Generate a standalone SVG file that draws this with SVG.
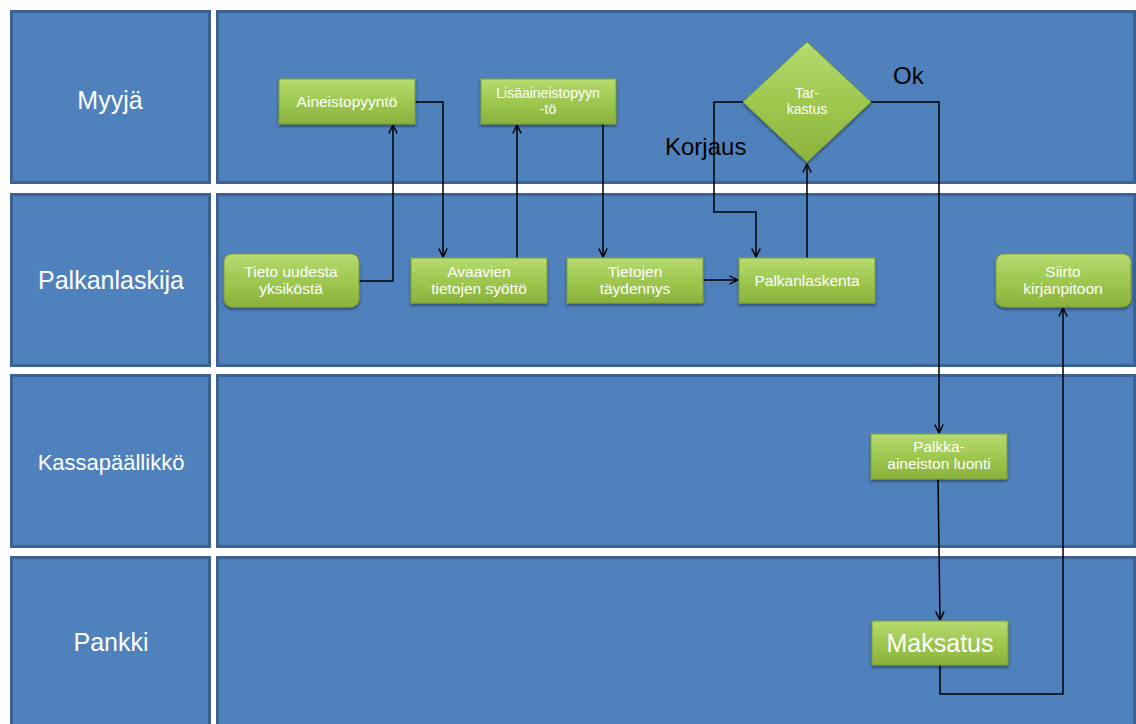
<svg xmlns="http://www.w3.org/2000/svg" width="1136" height="724" viewBox="0 0 1136 724">
<defs>
<style>
.lane{fill:#4f81bd;stroke:#3b6292;stroke-width:3}
.lbl{font-family:"Liberation Sans",Arial,sans-serif;fill:#ffffff;text-anchor:middle}
.node{fill:url(#gr);stroke:#7f9f3a;stroke-width:1;filter:url(#sh)}
.nt{font-family:"Liberation Sans",Arial,sans-serif;fill:#ffffff;text-anchor:middle;font-size:15.5px}
.sm{font-size:14px}
.xl{font-size:25px}
.con{fill:none;stroke:#000000;stroke-width:1.5}
.big{font-family:"Liberation Sans",Arial,sans-serif;fill:#000000;font-size:24px}
</style>
<linearGradient id="gr" x1="0" y1="0" x2="0" y2="1">
<stop offset="0" stop-color="#b6db70"/>
<stop offset="0.5" stop-color="#9ec84f"/>
<stop offset="1" stop-color="#8ab23c"/>
</linearGradient>
<filter id="sh" x="-10%" y="-10%" width="120%" height="140%">
<feDropShadow dx="0" dy="2" stdDeviation="1.5" flood-color="#000" flood-opacity="0.45"/>
</filter>
<marker id="ar" viewBox="0 0 10 10" refX="9.5" refY="5" markerWidth="10" markerHeight="10" markerUnits="userSpaceOnUse" orient="auto">
<path d="M1,0.8 L9.5,5 L1,9.2" fill="none" stroke="#000" stroke-width="1.5"/>
</marker>
</defs>
<rect width="1136" height="724" fill="#ffffff"/>
<g id="lanes">
<rect class="lane" x="11.5" y="11.5" width="198" height="171"/>
<rect class="lane" x="217.5" y="11.5" width="917" height="171"/>
<rect class="lane" x="11.5" y="194.5" width="198" height="171"/>
<rect class="lane" x="217.5" y="194.5" width="917" height="171"/>
<rect class="lane" x="11.5" y="375.5" width="198" height="171"/>
<rect class="lane" x="217.5" y="375.5" width="917" height="171"/>
<rect class="lane" x="11.5" y="557.5" width="198" height="180"/>
<rect class="lane" x="217.5" y="557.5" width="917" height="180"/>
<text class="lbl" x="110" y="109" font-size="25">Myyjä</text>
<text class="lbl" x="111" y="289" font-size="25">Palkanlaskija</text>
<text class="lbl" x="111" y="470" font-size="22">Kassapäällikkö</text>
<text class="lbl" x="111" y="651" font-size="25">Pankki</text>
</g>
<g id="connectors">
<path class="con" d="M359,281 H393 V125" marker-end="url(#ar)"/>
<path class="con" d="M415,102 H443 V257" marker-end="url(#ar)"/>
<path class="con" d="M517,258 V125" marker-end="url(#ar)"/>
<path class="con" d="M603,124 V257" marker-end="url(#ar)"/>
<path class="con" d="M703,280 H738" marker-end="url(#ar)"/>
<path class="con" d="M807,258 V164" marker-end="url(#ar)"/>
<path class="con" d="M744,102 H714 V212 H756 V257" marker-end="url(#ar)"/>
<path class="con" d="M871,102 H939 V433" marker-end="url(#ar)"/>
<path class="con" d="M938,479 L940,620" marker-end="url(#ar)"/>
<path class="con" d="M940,665 V694 H1063 V308" marker-end="url(#ar)"/>
<text class="big" x="665" y="155">Korjaus</text>
<text class="big" x="893" y="84">Ok</text>
</g>
<g id="n-aineistopyynto">
<rect class="node" x="279" y="79" width="136" height="45"/>
<text class="nt" x="347" y="107">Aineistopyyntö</text>
</g>
<g id="n-lisaaineisto">
<rect class="node" x="481" y="79" width="135" height="45"/>
<text class="nt sm" x="548" y="98">Lisäaineistopyyn</text>
<text class="nt sm" x="548" y="114">-tö</text>
</g>
<g id="n-tarkastus">
<path class="node" d="M807,42 L871,102 L807,162 L743,102 Z"/>
<text class="nt sm" x="807" y="98">Tar-</text>
<text class="nt sm" x="807" y="114">kastus</text>
</g>
<g id="n-tieto">
<rect class="node" x="224" y="254" width="135" height="53" rx="8"/>
<text class="nt" x="291" y="277">Tieto uudesta</text>
<text class="nt" x="291" y="294">yksiköstä</text>
</g>
<g id="n-avaavien">
<rect class="node" x="411" y="258" width="136" height="45"/>
<text class="nt" x="479" y="277">Avaavien</text>
<text class="nt" x="479" y="294">tietojen syöttö</text>
</g>
<g id="n-taydennys">
<rect class="node" x="567" y="258" width="136" height="45"/>
<text class="nt" x="635" y="277">Tietojen</text>
<text class="nt" x="635" y="294">täydennys</text>
</g>
<g id="n-palkanlaskenta">
<rect class="node" x="739" y="258" width="136" height="45"/>
<text class="nt" x="807" y="286">Palkanlaskenta</text>
</g>
<g id="n-siirto">
<rect class="node" x="996" y="254" width="135" height="53" rx="8"/>
<text class="nt" x="1063" y="277">Siirto</text>
<text class="nt" x="1063" y="294">kirjanpitoon</text>
</g>
<g id="n-palkka">
<rect class="node" x="871" y="434" width="136" height="45"/>
<text class="nt" x="939" y="452">Palkka-</text>
<text class="nt" x="939" y="469">aineiston luonti</text>
</g>
<g id="n-maksatus">
<rect class="node" x="872" y="621" width="136" height="44"/>
<text class="nt xl" x="940" y="652">Maksatus</text>
</g>
</svg>
